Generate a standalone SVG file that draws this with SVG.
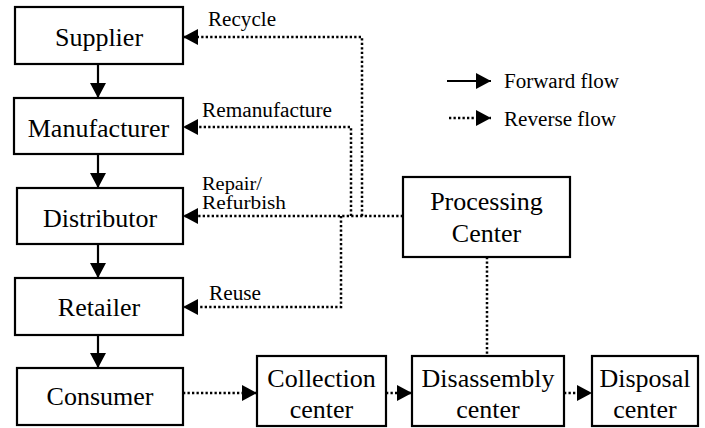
<svg xmlns="http://www.w3.org/2000/svg" width="705" height="428" viewBox="0 0 705 428">
<defs>
<marker id="ah" viewBox="0 0 15 16" refX="15" refY="8" markerWidth="15" markerHeight="16" orient="auto" markerUnits="userSpaceOnUse">
<path d="M0,0 L15,8 L0,16 z" fill="#000"/>
</marker>
</defs>
<rect width="705" height="428" fill="#fff"/>
<g id="connectors" fill="none" stroke="#000">
<g stroke-width="2.2">
<path d="M98,64 V98" marker-end="url(#ah)"/>
<path d="M98,154 V188" marker-end="url(#ah)"/>
<path d="M98,244 V278" marker-end="url(#ah)"/>
<path d="M98,335 V368" marker-end="url(#ah)"/>
</g>
<g stroke-width="2.5" stroke-dasharray="2.3 2.2">
<path d="M403,216 H183" marker-end="url(#ah)"/>
<path d="M362,216 V37 H183" marker-end="url(#ah)"/>
<path d="M351,216 V127 H183" marker-end="url(#ah)"/>
<path d="M341,216 V307 H183" marker-end="url(#ah)"/>
<path d="M183,393 H257" marker-end="url(#ah)"/>
<path d="M386,393 H412" marker-end="url(#ah)"/>
<path d="M564,393 H592" marker-end="url(#ah)"/>
<path d="M487,257 V356"/>
</g>
</g>
<g id="connector-labels">
<text font-family="Liberation Serif" font-size="20" x="208" y="26" textLength="68" lengthAdjust="spacingAndGlyphs">Recycle</text>
<text font-family="Liberation Serif" font-size="20" x="202" y="117" textLength="130" lengthAdjust="spacingAndGlyphs">Remanufacture</text>
<text font-family="Liberation Serif" font-size="19" x="202" y="190" textLength="60" lengthAdjust="spacingAndGlyphs">Repair/</text>
<text font-family="Liberation Serif" font-size="19" x="202" y="209" textLength="84" lengthAdjust="spacingAndGlyphs">Refurbish</text>
<text font-family="Liberation Serif" font-size="20" x="209" y="300" textLength="52" lengthAdjust="spacingAndGlyphs">Reuse</text>
</g>
<g id="legend">
<path d="M447,81 H491" fill="none" stroke="#000" stroke-width="2.2" marker-end="url(#ah)"/>
<path d="M449,118 H491" fill="none" stroke="#000" stroke-width="2.5" stroke-dasharray="2.3 2.2" marker-end="url(#ah)"/>
<text font-family="Liberation Serif" font-size="20" x="504" y="88" textLength="115" lengthAdjust="spacingAndGlyphs">Forward flow</text>
<text font-family="Liberation Serif" font-size="20" x="504" y="126" textLength="112" lengthAdjust="spacingAndGlyphs">Reverse flow</text>
</g>
<g id="supplier"><rect fill="#fff" stroke="#000" stroke-width="2.2" x="15" y="7" width="168" height="57"/><text font-family="Liberation Serif" font-size="26" text-anchor="middle" x="99" y="46">Supplier</text></g>
<g id="manufacturer"><rect fill="#fff" stroke="#000" stroke-width="2.2" x="14" y="98" width="169" height="56"/><text font-family="Liberation Serif" font-size="26" text-anchor="middle" x="98.5" y="137">Manufacturer</text></g>
<g id="distributor"><rect fill="#fff" stroke="#000" stroke-width="2.2" x="17" y="188" width="166" height="56"/><text font-family="Liberation Serif" font-size="26" text-anchor="middle" x="100" y="227">Distributor</text></g>
<g id="retailer"><rect fill="#fff" stroke="#000" stroke-width="2.2" x="15" y="278" width="168" height="57"/><text font-family="Liberation Serif" font-size="26" text-anchor="middle" x="99" y="316">Retailer</text></g>
<g id="consumer"><rect fill="#fff" stroke="#000" stroke-width="2.2" x="17" y="368" width="166" height="57"/><text font-family="Liberation Serif" font-size="26" text-anchor="middle" x="100" y="405">Consumer</text></g>
<g id="processing"><rect fill="#fff" stroke="#000" stroke-width="2.2" x="403" y="177" width="167" height="80"/><text font-family="Liberation Serif" font-size="26" text-anchor="middle" x="486.5" y="210">Processing</text><text font-family="Liberation Serif" font-size="26" text-anchor="middle" x="486.5" y="242">Center</text></g>
<g id="collection"><rect fill="#fff" stroke="#000" stroke-width="2.2" x="257" y="356" width="129" height="70"/><text font-family="Liberation Serif" font-size="26" text-anchor="middle" x="321.5" y="387">Collection</text><text font-family="Liberation Serif" font-size="26" text-anchor="middle" x="321.5" y="418">center</text></g>
<g id="disassembly"><rect fill="#fff" stroke="#000" stroke-width="2.2" x="412" y="356" width="152" height="70"/><text font-family="Liberation Serif" font-size="26" text-anchor="middle" x="488" y="387">Disassembly</text><text font-family="Liberation Serif" font-size="26" text-anchor="middle" x="488" y="418">center</text></g>
<g id="disposal"><rect fill="#fff" stroke="#000" stroke-width="2.2" x="592" y="356" width="106" height="70"/><text font-family="Liberation Serif" font-size="26" text-anchor="middle" x="645" y="387">Disposal</text><text font-family="Liberation Serif" font-size="26" text-anchor="middle" x="645" y="418">center</text></g>
</svg>
